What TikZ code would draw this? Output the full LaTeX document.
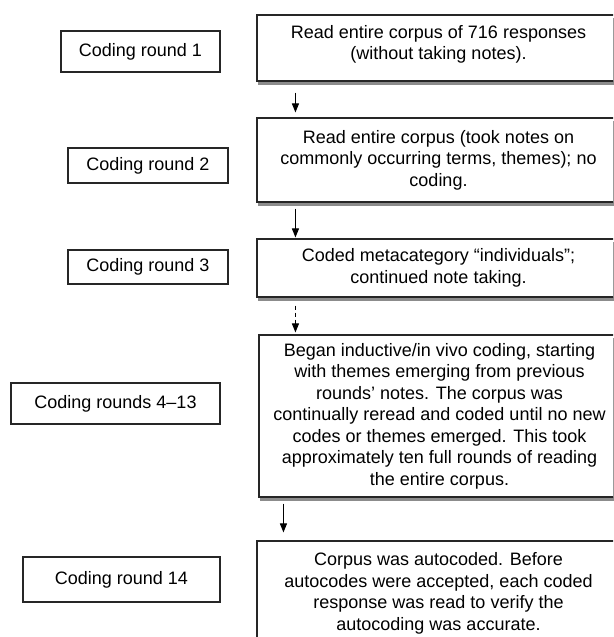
\documentclass[tikz,border=0pt]{standalone}
\usepackage{fontspec}
\setmainfont{Liberation Sans}
\usetikzlibrary{arrows.meta,backgrounds}
\begin{document}
\begin{tikzpicture}[x=1pt,y=-1pt,
  every node/.style={font=\fontsize{18}{21.5}\selectfont},
  lbox/.style={draw=black!85, line width=1.1pt, rectangle, inner sep=0pt, align=center},
  rbox/.style={draw=black!85, line width=1.1pt, rectangle, inner sep=0pt, align=center, fill=white},
  shade/.style={fill=black!45},
  arr/.style={line width=1pt, -{Triangle[length=9pt,width=7pt]}},
  darr/.style={arr, dash pattern=on 4pt off 3pt}]
\useasboundingbox (0,0) rectangle (613,637);
\clip (0,0) rectangle (613,637);
% left labels
\node[lbox, minimum width=159pt, minimum height=41pt] (c1) at (140.5,51.5) {Coding round 1};
\node[lbox, minimum width=160pt, minimum height=35pt] (c2) at (148,165.5) {Coding round 2};
\node[lbox, minimum width=160pt, minimum height=34pt] (c3) at (148,267) {Coding round 3};
\node[lbox, minimum width=209pt, minimum height=41pt] (c4) at (115.5,403.5) {Coding rounds 4--13};
\node[lbox, minimum width=197pt, minimum height=45pt] (c5) at (121.5,579.5) {Coding round 14};
% right boxes
\node[rbox, minimum width=443pt, minimum height=66pt] (b1) at (478.5,48)
  {\hspace*{-80pt}Read entire corpus of 716 responses\\\hspace*{-80pt}(without taking notes).\\[-10pt]\mbox{}};
\node[rbox, minimum width=443pt, minimum height=84pt] (b2) at (478.5,160)
  {\hspace*{-80pt}Read entire corpus (took notes on\\\hspace*{-80pt}commonly occurring terms, themes); no\\\hspace*{-80pt}coding.};
\node[rbox, minimum width=443pt, minimum height=58pt] (b3) at (478.5,268)
  {\hspace*{-80pt}Coded metacategory “individuals”;\\\hspace*{-80pt}continued note taking.};
\node[rbox, minimum width=441pt, minimum height=162pt] (b4) at (479.5,416)
  {\hspace*{-80pt}Began inductive/in vivo coding, starting\\\hspace*{-80pt}with themes emerging from previous\\\hspace*{-80pt}rounds’ notes. The corpus was\\\hspace*{-80pt}continually reread and coded until no new\\\hspace*{-80pt}codes or themes emerged. This took\\\hspace*{-80pt}approximately ten full rounds of reading\\\hspace*{-80pt}the entire corpus.};
\node[rbox, minimum width=443pt, minimum height=105pt] (b5) at (478.5,593.5)
  {\hspace*{-80pt}Corpus was autocoded. Before\\\hspace*{-80pt}autocodes were accepted, each coded\\\hspace*{-80pt}response was read to verify the\\\hspace*{-80pt}autocoding was accurate.};
% shadows
\begin{scope}[on background layer]
  \fill[white] (0,0) rectangle (613,637);
  \foreach \b in {b1,b2,b3,b4}
    \fill[shade] ([xshift=2pt,yshift=-3.5pt]\b.south west) rectangle ([xshift=2pt,yshift=-3.5pt]\b.north east);
\end{scope}
% arrows
\draw[arr] ([xshift=39pt,yshift=-11pt]b1.south west) -- ([xshift=39pt,yshift=5pt]b2.north west);
\draw[arr] ([xshift=39pt,yshift=-6pt]b2.south west) -- ([xshift=39pt,yshift=1pt]b3.north west);
\draw[darr] ([xshift=39pt,yshift=-8pt]b3.south west) -- ([xshift=37pt,yshift=2pt]b4.north west);
\draw[arr] ([xshift=25pt,yshift=-6pt]b4.south west) -- ([xshift=27pt,yshift=8pt]b5.north west);
\end{tikzpicture}
\end{document}
